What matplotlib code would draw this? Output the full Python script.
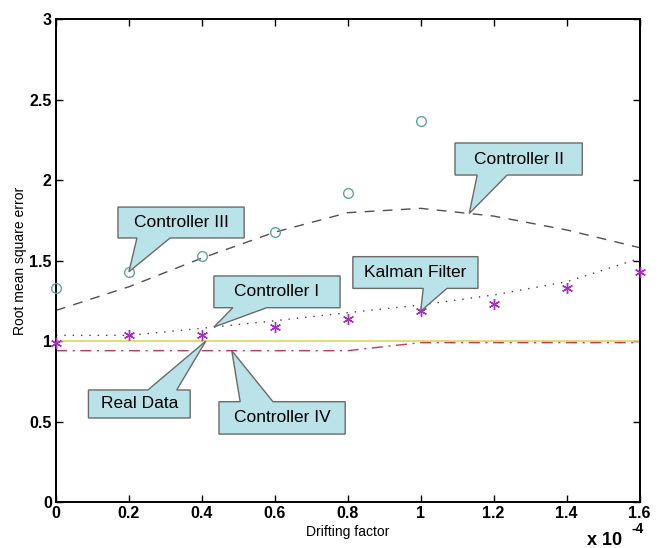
import numpy as np
import matplotlib
matplotlib.use("Agg")
import matplotlib.pyplot as plt
from matplotlib.patches import Polygon

plt.rcParams['font.family'] = ['Liberation Sans', 'DejaVu Sans']

# ---- data (x in units of 1e-4) ----
drift = [0.0, 0.2, 0.4, 0.6, 0.8, 1.0, 1.2, 1.4, 1.6]
controller_iii_x = [0.0, 0.2, 0.4, 0.6, 0.8, 1.0]
controller_iii = [1.327, 1.43, 1.528, 1.675, 1.92, 2.366]
controller_ii = [1.19, 1.337, 1.515, 1.676, 1.797, 1.824, 1.776, 1.69, 1.58]
controller_i = [1.035, 1.035, 1.079, 1.126, 1.176, 1.224, 1.286, 1.368, 1.513]
kalman = [0.985, 1.037, 1.037, 1.085, 1.135, 1.185, 1.23, 1.33, 1.43]
controller_iv = [0.94, 0.94, 0.94, 0.94, 0.94, 0.99, 0.99, 0.99, 0.99]
real_data = [1.0, 1.0, 1.0, 1.0, 1.0, 1.0, 1.0, 1.0, 1.0]

xticks = [0, 0.2, 0.4, 0.6, 0.8, 1, 1.2, 1.4, 1.6]
xticklabels = ['0', '0.2', '0.4', '0.6', '0.8', '1', '1.2', '1.4', '1.6']
yticks = [0, 0.5, 1, 1.5, 2, 2.5, 3]
yticklabels = ['0', '0.5', '1', '1.5', '2', '2.5', '3']

fig = plt.figure(figsize=(6.6, 5.48), dpi=100)
ax = fig.add_axes([0.0848, 0.0839, 0.8842, 0.8814])

ax.plot(drift, real_data, color='#dcd858', lw=1.2, zorder=2)
ax.plot(drift, controller_iv, color='#c8385a', lw=1.0, dashes=(8, 4, 1.5, 4), zorder=2)
ax.plot(drift, controller_ii, color='#505050', lw=1.0, dashes=(7, 6), zorder=2)
ax.plot(drift, controller_i, color='#404040', lw=1.0, dashes=(1, 5), zorder=2)
ax.plot(controller_iii_x, controller_iii, ls='none', marker='o', ms=7,
        mfc='none', mec='#5aa5a2', mew=1.0, zorder=3, clip_on=False)
ax.plot(drift, kalman, ls='none', marker=(6, 2, 0), ms=8,
        mec='#a530c0', mew=1.0, zorder=3, clip_on=False)

ax.set_xlim(0, 1.6)
ax.set_ylim(0, 3)
ax.set_xticks(xticks)
ax.set_xticklabels(xticklabels, fontsize=11.5, fontweight='bold')
ax.set_yticks(yticks)
ax.set_yticklabels(yticklabels, fontsize=11.5, fontweight='bold')
ax.tick_params(direction='in', length=5, width=1.0, top=True, right=True,
               pad=3)
for s in ax.spines.values():
    s.set_linewidth(1.4)

ax.set_xlabel('Drifting factor', fontsize=10, labelpad=3)
ax.set_ylabel('Root mean square error', fontsize=10, labelpad=2)
fig.text(0.890, 0.006, 'x 10', fontsize=13, fontweight='bold',
         ha='left', va='baseline')
fig.text(0.957, 0.028, '-4', fontsize=10, fontweight='bold',
         ha='left', va='baseline')

# ---- callouts ----
def callout(label, box, base, tip, side):
    x0, x1, yb, yt = box
    b0, b1 = base
    if side == 'bottom':
        verts = [(x0, yt), (x1, yt), (x1, yb), (b1, yb), tip, (b0, yb), (x0, yb)]
    else:
        verts = [(x0, yt), (b0, yt), tip, (b1, yt), (x1, yt), (x1, yb), (x0, yb)]
    ax.add_patch(Polygon(verts, closed=True, fc='#b9e3e9', ec='#6a6a6a',
                         lw=1.0, zorder=5, clip_on=False))
    ax.text((x0 + x1) / 2, (yb + yt) / 2, label, ha='center', va='center',
            fontsize=12.5, zorder=6)

tip_ii_x = 1.133
tip_i_x = 0.433
tip_iv_x = 0.482
tip_rd_x = 0.411
callout('Controller III', (0.170, 0.516, 1.640, 1.832), (0.222, 0.313),
        (controller_iii_x[1], controller_iii[1]), 'bottom')
callout('Controller II', (1.094, 1.443, 2.031, 2.230), (1.155, 1.237),
        (tip_ii_x, np.interp(tip_ii_x, drift, controller_ii)), 'bottom')
callout('Kalman Filter', (0.814, 1.157, 1.327, 1.524), (1.007, 1.072),
        (drift[5], kalman[5]), 'bottom')
callout('Controller I', (0.433, 0.779, 1.207, 1.404), (0.485, 0.578),
        (tip_i_x, np.interp(tip_i_x, drift, controller_i)), 'bottom')
callout('Real Data', (0.089, 0.368, 0.522, 0.696), (0.252, 0.331),
        (tip_rd_x, np.interp(tip_rd_x, drift, real_data)), 'top')
callout('Controller IV', (0.447, 0.793, 0.422, 0.623), (0.505, 0.595),
        (tip_iv_x, np.interp(tip_iv_x, drift, controller_iv)), 'top')

fig.savefig('out.png', dpi=100)
